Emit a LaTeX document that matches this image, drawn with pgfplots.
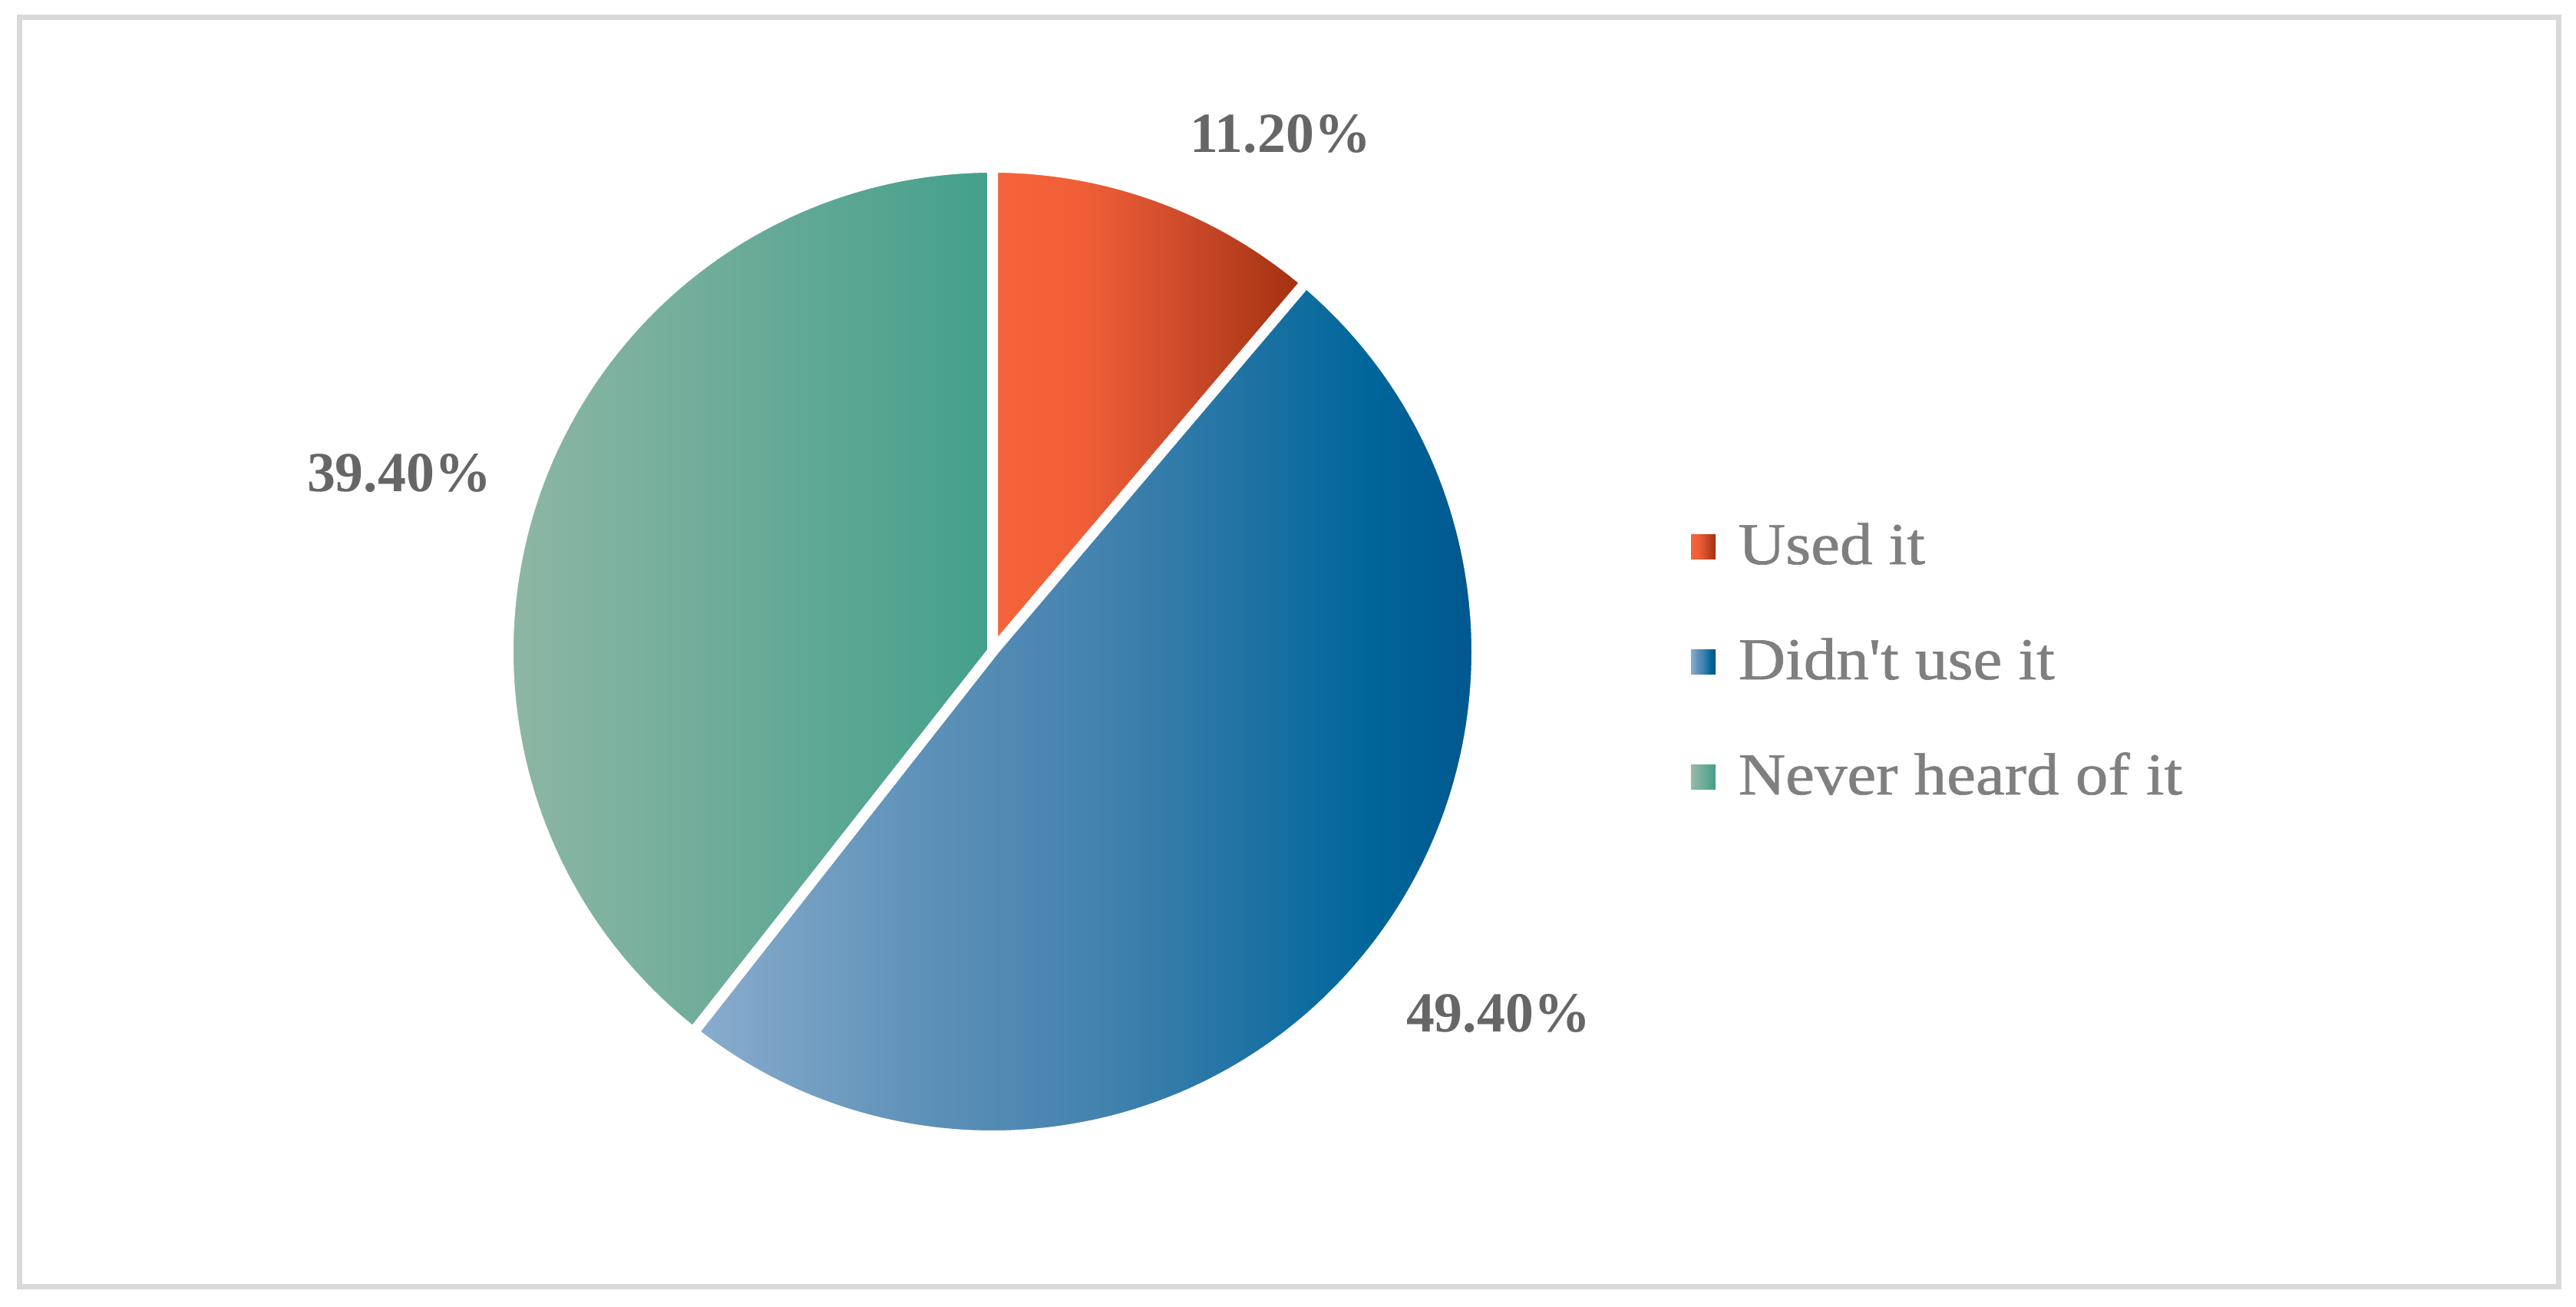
\documentclass[border=0pt]{standalone}
\usepackage{fontspec}
\setmainfont{Liberation Serif}
\newfontfamily\legfont[FakeStretch=1.1, FakeBold=0.9, Ligatures=TeXOff]{Liberation Serif}
\usepackage{pgfplots}
\usepackage{pgfplotstable}
\pgfplotsset{compat=1.18}

\definecolor{labgray}{HTML}{666666}
\definecolor{leggray}{HTML}{7F7F7F}
\definecolor{framegray}{HTML}{D9D9D9}
% slice gradients (left light -> right dark)
\definecolor{orA}{HTML}{F5643A}
\definecolor{orB}{HTML}{EF5E36}
\definecolor{orC}{HTML}{D24E2C}
\definecolor{orD}{HTML}{A0300F}
\definecolor{blA}{HTML}{8AADCD}
\definecolor{blB}{HTML}{5B8FB7}
\definecolor{blC}{HTML}{4282AE}
\definecolor{blD}{HTML}{00669A}
\definecolor{blE}{HTML}{005088}
\definecolor{grA}{HTML}{98B9A8}
\definecolor{grB}{HTML}{43A08B}

\pgfdeclarehorizontalshading{orsh}{100bp}{color(0bp)=(orA); color(25bp)=(orA); color(40bp)=(orB); color(53bp)=(orC); color(75bp)=(orD); color(100bp)=(orD)}
\pgfdeclarehorizontalshading{blsh}{100bp}{color(0bp)=(blA); color(25bp)=(blA); color(39.5bp)=(blB); color(49.5bp)=(blC); color(65bp)=(blD); color(75bp)=(blE); color(100bp)=(blE)}
\pgfdeclarehorizontalshading{grsh}{100bp}{color(0bp)=(grA); color(25bp)=(grA); color(75bp)=(grB); color(100bp)=(grB)}

\pgfplotstableread{
label value
Used 11.2
Didnt 49.4
Never 39.4
}\piedata

\begin{document}
\begin{tikzpicture}
\pgfplotstablegetelem{0}{value}\of\piedata \let\va\pgfplotsretval
\pgfplotstablegetelem{1}{value}\of\piedata \let\vb\pgfplotsretval
\pgfmathsetmacro\aA{90-3.6*\va}
\pgfmathsetmacro\aB{\aA-3.6*\vb}
\def\R{6.31}
\begin{axis}[
    x=1cm, y=1cm,
    xmin=0, xmax=33.56, ymin=0, ymax=17.02,
    scale only axis,
    hide axis,
    clip=false
]
\path (axis cs:0,0) rectangle (axis cs:33.56,17.02);
\draw[framegray, line width=0.07cm] (axis cs:0.255,0.255) rectangle (axis cs:33.33,16.795);

% pie slices
\shadedraw[shading=orsh, draw=white, line width=0.14cm, line join=miter]
    (axis cs:12.93,8.53) -- ++(90:\R) arc[start angle=90, end angle=\aA, radius=\R cm] -- cycle;
\shadedraw[shading=blsh, draw=white, line width=0.14cm, line join=miter]
    (axis cs:12.93,8.53) -- ++(\aA:\R) arc[start angle=\aA, end angle=\aB, radius=\R cm] -- cycle;
\shadedraw[shading=grsh, draw=white, line width=0.14cm, line join=miter]
    (axis cs:12.93,8.53) -- ++(\aB:\R) arc[start angle=\aB, end angle=-270, radius=\R cm] -- cycle;

% data labels
\node[labgray, inner sep=0, font=\bfseries\fontsize{21}{25}\selectfont] at (axis cs:16.68,15.28) {11.20\%};
\node[labgray, inner sep=0, font=\bfseries\fontsize{21}{25}\selectfont] at (axis cs:19.52,3.82) {49.40\%};
\node[labgray, inner sep=0, font=\bfseries\fontsize{21}{25}\selectfont] at (axis cs:5.20,10.86) {39.40\%};

% legend
\shade[shading=orsh] (axis cs:22.03,9.73) rectangle (axis cs:22.35,10.05);
\shade[shading=blsh] (axis cs:22.03,8.23) rectangle (axis cs:22.35,8.55);
\shade[shading=grsh] (axis cs:22.03,6.73) rectangle (axis cs:22.35,7.05);
\node[leggray, anchor=base west, inner sep=0, font=\legfont\fontsize{22}{26}\selectfont] at (axis cs:22.64,9.67) {Used it};
\node[leggray, anchor=base west, inner sep=0, font=\legfont\fontsize{22}{26}\selectfont] at (axis cs:22.64,8.17) {Didn't use it};
\node[leggray, anchor=base west, inner sep=0, font=\legfont\fontsize{22}{26}\selectfont] at (axis cs:22.64,6.67) {Never heard of it};
\end{axis}
\end{tikzpicture}
\end{document}
